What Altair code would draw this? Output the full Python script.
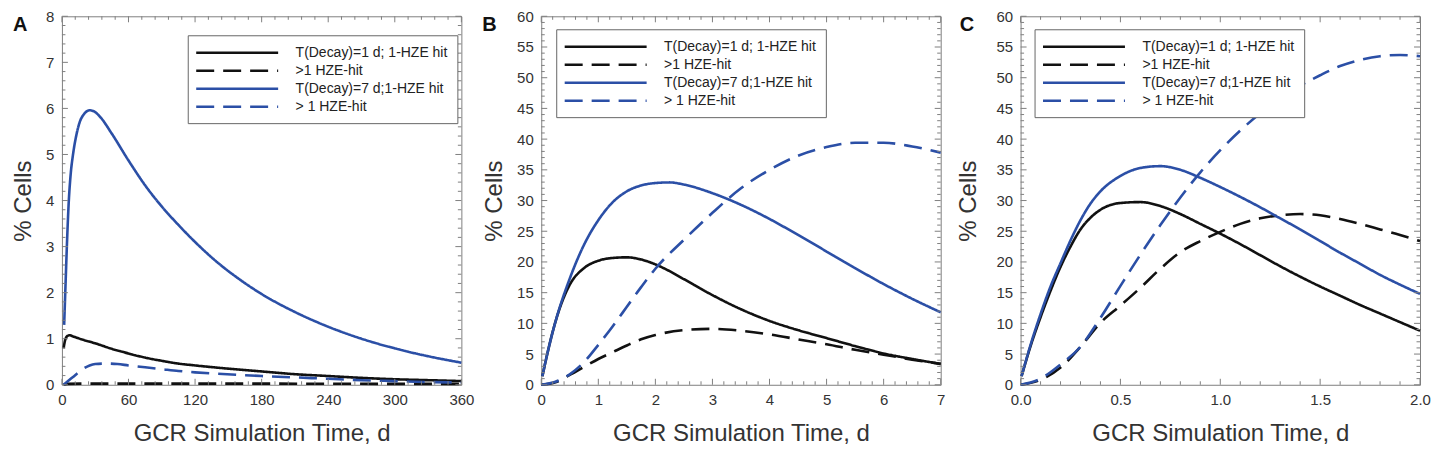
import altair as alt
import pandas as pd
import numpy as np

LABELS = ["T(Decay)=1 d; 1-HZE hit", ">1 HZE-hit", "T(Decay)=7 d;1-HZE hit", "> 1 HZE-hit"]
COLORS = ["#111111", "#111111", "#2b4fa6", "#2b4fa6"]
DASHES = [[1, 0], [18, 9], [1, 0], [18, 9]]

# ---------- Panel A (0-360 d) ----------
A_black_solid_t = [1.5, 3, 5, 7, 10, 20, 30, 45, 60, 75, 90, 105, 120, 150, 180, 210, 240, 270, 300, 330, 360]
A_black_solid_v = [0.79, 0.98, 1.06, 1.075, 1.05, 0.97, 0.9, 0.78, 0.68, 0.59, 0.52, 0.46, 0.42, 0.35, 0.29, 0.23, 0.19, 0.15, 0.12, 0.1, 0.08]
A_black_dash_t = [1.5, 5, 20, 60, 120, 180, 240, 300, 360]
A_black_dash_v = [0.0, 0.02, 0.025, 0.025, 0.025, 0.025, 0.022, 0.02, 0.02]
A_blue_solid_t = [2, 3, 4, 5, 6, 8, 10, 13, 16, 20, 25, 30, 35, 45, 60, 75, 90, 105, 120, 140, 160, 180, 210, 240, 270, 300, 330, 360]
A_blue_solid_v = [1.3, 2.0, 2.7, 3.35, 3.9, 4.6, 5.0, 5.42, 5.7, 5.88, 5.96, 5.92, 5.8, 5.45, 4.87, 4.33, 3.87, 3.47, 3.1, 2.66, 2.29, 1.97, 1.58, 1.26, 1.0, 0.79, 0.62, 0.48]
A_blue_dash_t = [1.5, 5, 10, 15, 20, 25, 30, 40, 50, 60, 75, 90, 105, 120, 140, 180, 210, 240, 270, 300, 330, 360]
A_blue_dash_v = [0.0, 0.07, 0.17, 0.27, 0.36, 0.42, 0.45, 0.46, 0.45, 0.42, 0.38, 0.34, 0.3, 0.27, 0.24, 0.19, 0.16, 0.13, 0.1, 0.08, 0.06, 0.05]

# ---------- Panel B (0-7 d) ----------
B_t = [0.02, 0.1, 0.25, 0.5, 0.75, 1.0, 1.25, 1.5, 1.75, 2.0, 2.25, 2.5, 3.0, 3.5, 4.0, 4.5, 5.0, 5.5, 6.0, 6.5, 7.0]
B_black_solid_v = [1.4, 4.8, 10.3, 16.3, 19.0, 20.2, 20.65, 20.75, 20.4, 19.6, 18.5, 17.2, 14.6, 12.3, 10.4, 8.9, 7.6, 6.3, 5.1, 4.2, 3.4]
B_blue_solid_v = [1.4, 4.8, 10.3, 17.3, 22.8, 26.8, 29.7, 31.5, 32.45, 32.85, 32.95, 32.6, 31.2, 29.3, 27.0, 24.4, 21.7, 19.0, 16.4, 14.0, 11.8]
B_dash_t = [0.0, 0.25, 0.5, 0.75, 1.0, 1.25, 1.5, 1.75, 2.0, 2.5, 3.0, 3.5, 4.0, 4.5, 5.0, 5.5, 6.0, 6.5, 7.0]
B_black_dash_v = [0.0, 0.4, 1.6, 2.9, 4.2, 5.3, 6.4, 7.4, 8.1, 8.9, 9.1, 8.8, 8.2, 7.4, 6.6, 5.7, 4.9, 4.1, 3.4]
B_blue_dash_v = [0.0, 0.5, 1.7, 3.7, 6.5, 9.5, 12.7, 15.9, 18.9, 23.6, 28.0, 32.0, 35.0, 37.3, 38.7, 39.4, 39.4, 38.8, 37.8]

# ---------- Panel C (0-2 d) ----------
C_t = [0.005, 0.05, 0.1, 0.15, 0.2, 0.25, 0.3, 0.35, 0.4, 0.5, 0.6, 0.7, 0.8, 0.9, 1.0, 1.1, 1.2, 1.3, 1.4, 1.5, 1.6, 1.7, 1.8, 1.9, 2.0]
C_black_solid_v = [1.4, 6.3, 11.0, 15.3, 19.2, 22.5, 25.3, 27.2, 28.5, 29.6, 29.75, 29.1, 27.8, 26.2, 24.6, 22.9, 21.1, 19.3, 17.6, 16.0, 14.5, 13.0, 11.6, 10.2, 8.8]
C_blue_solid_v = [1.4, 6.5, 11.5, 16.0, 19.8, 23.5, 26.8, 29.5, 31.5, 34.0, 35.3, 35.6, 35.0, 33.7, 32.2, 30.6, 28.9, 27.1, 25.3, 23.4, 21.5, 19.7, 17.9, 16.3, 14.8]
C_dash_t = [0.0, 0.1, 0.2, 0.3, 0.4, 0.5, 0.6, 0.7, 0.8, 0.9, 1.0, 1.1, 1.2, 1.3, 1.4, 1.5, 1.6, 1.7, 1.8, 1.9, 2.0]
C_black_dash_v = [0.0, 0.8, 2.8, 6.2, 10.1, 12.9, 15.8, 18.9, 21.6, 23.4, 24.9, 26.2, 27.1, 27.6, 27.8, 27.6, 27.0, 26.2, 25.3, 24.4, 23.4]
C_blue_dash_v = [0.0, 1.0, 3.3, 6.2, 10.9, 16.1, 21.2, 26.0, 30.5, 34.6, 38.2, 41.4, 44.2, 46.7, 48.7, 50.4, 51.9, 52.9, 53.5, 53.7, 53.5]

W, H = 400, 369
MAJ, MIN = 6, 3.5
GRAY = "#808080"
SYM_SIZE = 187  # custom path "M-6,0L6,0" -> line length 6*sqrt(size) ~ 82 px


def series_df(parts):
    rows = []
    for label, ts, vs in parts:
        for t, v in zip(ts, vs):
            rows.append({"x": t, "y": v, "series": label})
    return pd.DataFrame(rows)


def ticks_layers(xs, ys, length, xenc, yenc):
    dx = pd.DataFrame({"x": xs})
    dy = pd.DataFrame({"y": ys})
    rule = dict(color=GRAY, strokeWidth=1)
    return [
        alt.Chart(dx).mark_rule(**rule).encode(x=xenc, y=alt.value(H), y2=alt.value(H - length)),
        alt.Chart(dx).mark_rule(**rule).encode(x=xenc, y=alt.value(0), y2=alt.value(length)),
        alt.Chart(dy).mark_rule(**rule).encode(y=yenc, x=alt.value(0), x2=alt.value(length)),
        alt.Chart(dy).mark_rule(**rule).encode(y=yenc, x=alt.value(W), x2=alt.value(W - length)),
    ]


def panel(df, xdom, ydom, xmaj, ymaj, xmin, ymin, xfmt, letter, letter_dx, tpad, lx, ly):
    xscale = alt.Scale(domain=xdom, nice=False, zero=False)
    yscale = alt.Scale(domain=ydom, nice=False, zero=False)
    xaxis = alt.Axis(title="GCR Simulation Time, d", values=xmaj, format=xfmt,
                     labelFlush=False, titlePadding=14)
    yaxis = alt.Axis(title="% Cells", values=ymaj, format="d", titlePadding=tpad)
    xenc = alt.X("x:Q", scale=xscale, axis=xaxis)
    yenc = alt.Y("y:Q", scale=yscale, axis=yaxis)
    leg = alt.Legend(title=None, orient="none", legendX=lx, legendY=ly,
                     symbolType="M-6,0L6,0", symbolSize=SYM_SIZE, symbolStrokeWidth=2.5,
                     symbolOffset=32, labelOffset=50,
                     labelFontSize=14, labelColor="#222",
                     padding=9, fillColor="white", strokeColor="#666",
                     labelLimit=400, rowPadding=2)
    lines = alt.Chart(df).mark_line(strokeWidth=2.6, interpolate="monotone").encode(
        x=xenc, y=yenc,
        color=alt.Color("series:N", scale=alt.Scale(domain=LABELS, range=COLORS), legend=leg),
        strokeDash=alt.StrokeDash("series:N", scale=alt.Scale(domain=LABELS, range=DASHES), legend=leg),
    )
    layers = [lines]
    layers += ticks_layers(xmaj, ymaj, MAJ, xenc, yenc)
    layers += ticks_layers(xmin, ymin, MIN, xenc, yenc)
    lt = alt.Chart(pd.DataFrame({"t": [letter]})).mark_text(
        fontSize=20, fontWeight="bold", align="left", baseline="top", color="#111"
    ).encode(text="t:N", x=alt.value(letter_dx), y=alt.value(-1))
    layers.append(lt)
    return alt.layer(*layers).properties(width=W, height=H)


dfA = series_df([(LABELS[0], A_black_solid_t, A_black_solid_v), (LABELS[1], A_black_dash_t, A_black_dash_v),
                 (LABELS[2], A_blue_solid_t, A_blue_solid_v), (LABELS[3], A_blue_dash_t, A_blue_dash_v)])
dfB = series_df([(LABELS[0], B_t, B_black_solid_v), (LABELS[1], B_dash_t, B_black_dash_v),
                 (LABELS[2], B_t, B_blue_solid_v), (LABELS[3], B_dash_t, B_blue_dash_v)])
dfC = series_df([(LABELS[0], C_t, C_black_solid_v), (LABELS[1], C_dash_t, C_black_dash_v),
                 (LABELS[2], C_t, C_blue_solid_v), (LABELS[3], C_dash_t, C_blue_dash_v)])

A_xmaj = [0, 60, 120, 180, 240, 300, 360]
A_ymaj = [0, 1, 2, 3, 4, 5, 6, 7, 8]
A_xmin = [v for v in range(0, 361, 12) if v % 60]
A_ymin = [round(v, 1) for v in np.arange(0, 8.01, 0.2) if abs(v - round(v)) > 1e-6]
B_xmaj = [0, 1, 2, 3, 4, 5, 6, 7]
B_ymaj = list(range(0, 61, 5))
B_xmin = [round(v, 1) for v in np.arange(0, 7.01, 0.2) if abs(v - round(v)) > 1e-6]
B_ymin = [v for v in range(0, 61) if v % 5]
C_xmaj = [0.0, 0.5, 1.0, 1.5, 2.0]
C_ymaj = list(range(0, 61, 5))
C_xmin = [round(v, 1) for v in np.arange(0, 2.01, 0.1) if abs(v * 2 - round(v * 2)) > 1e-6]
C_ymin = [v for v in range(0, 61) if v % 5]

pA = panel(dfA, [0, 360], [0, 8], A_xmaj, A_ymaj, A_xmin, A_ymin, "d", "A", -49, 10, 126, 19)
pB = panel(dfB, [0, 7], [0, 60], B_xmaj, B_ymaj, B_xmin, B_ymin, "d", "B", -59, 10, 15, 13)
pC = panel(dfC, [0, 2], [0, 60], C_xmaj, C_ymaj, C_xmin, C_ymin, ".1f", "C", -61, 15, 14, 13)

chart = alt.hconcat(pA, pB, pC, spacing=80, bounds="flush").resolve_scale(
    color="independent", strokeDash="independent", x="independent", y="independent"
).resolve_legend(color="independent", strokeDash="independent").configure(
    font="Liberation Sans", padding={"left": 3, "top": 0, "right": 0, "bottom": 0}, background="white"
).configure_view(stroke=GRAY, strokeWidth=1).configure_axis(
    labelFontSize=15, labelColor="#333", titleFontSize=24, titleFontWeight="normal",
    titleColor="#333", ticks=False, domain=False, grid=False, labelPadding=8
)

chart.save("out.html", embed_options={"renderer": "svg", "actions": False})
